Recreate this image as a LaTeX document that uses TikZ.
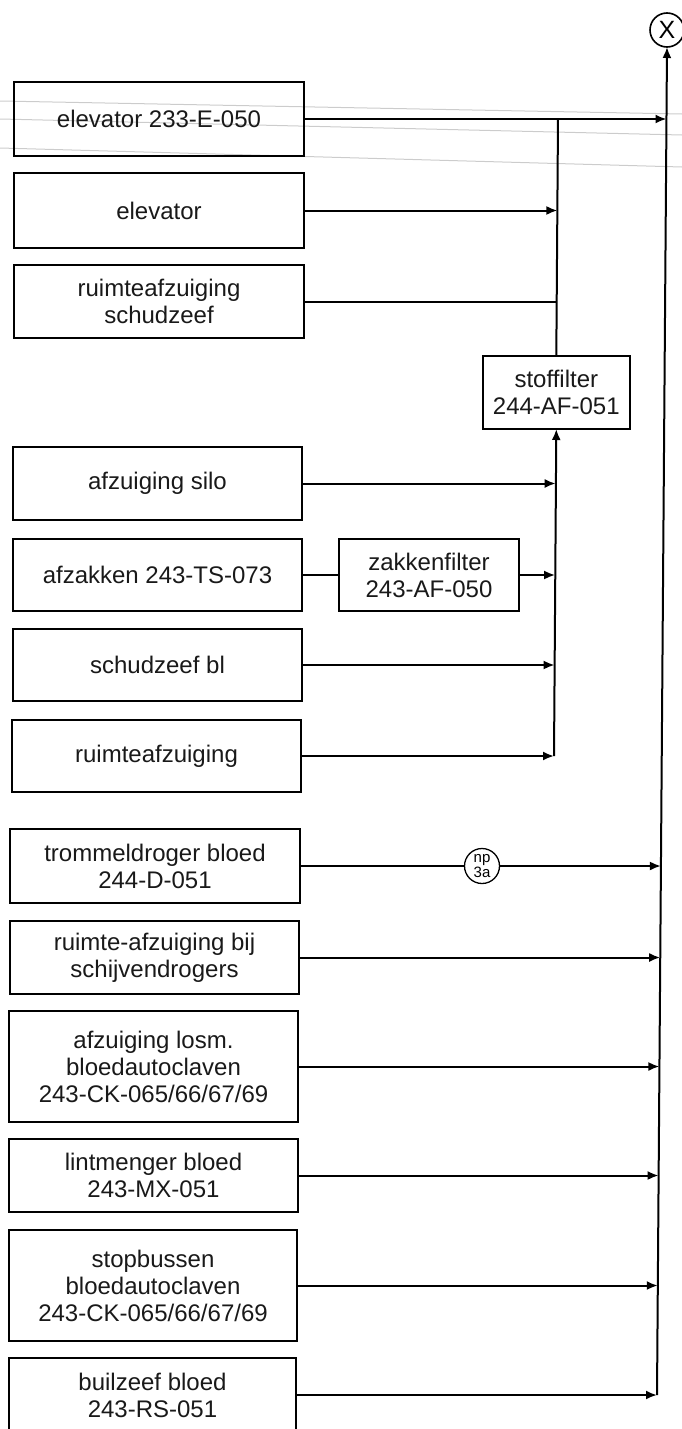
\documentclass[tikz,border=0pt]{standalone}
\usepackage{fontspec}
\setmainfont{Liberation Sans}
\usetikzlibrary{arrows.meta,calc}
\begin{document}
\begin{tikzpicture}[x=1pt,y=-1pt,line width=2pt,
  box/.style={draw,rectangle,inner sep=0pt,outer sep=0pt,align=center,
    font=\fontsize{24}{27}\selectfont,text=black!90},
  arr/.style={-{Latex[length=11pt,width=9pt]}},
  scan/.style={draw=gray!40,line width=1pt},
  ring/.style={draw,circle,inner sep=0pt,outer sep=0pt},
]
\useasboundingbox (0,0) rectangle (682,1429);
% faint scan lines
\draw[scan] (0,101) -- (682,114);
\draw[scan] (0,119) -- (682,135);
\draw[scan] (0,148) -- (682,167);
% left column boxes
\node[box,minimum width=290pt,minimum height=74pt] (b1) at (159,119) {elevator 233-E-050};
\node[box,minimum width=290pt,minimum height=75pt] (b2) at (159,210.5) {elevator};
\node[box,minimum width=290pt,minimum height=73pt] (b3) at (159,301.5) {ruimteafzuiging\\schudzeef};
\node[box,minimum width=289pt,minimum height=73pt] (b4) at (157.5,483.5) {afzuiging silo};
\node[box,minimum width=289pt,minimum height=72pt] (b5) at (157.5,575) {afzakken 243-TS-073};
\node[box,minimum width=289pt,minimum height=72pt] (b6) at (157.5,665) {schudzeef bl};
\node[box,minimum width=289pt,minimum height=72pt] (b7) at (156.5,756) {ruimteafzuiging};
\node[box,minimum width=290pt,minimum height=74pt] (b8) at (155,866) {trommeldroger bloed\\244-D-051};
\node[box,minimum width=289pt,minimum height=73pt] (b9) at (154.5,957.5) {ruimte-afzuiging bij\\schijvendrogers};
\node[box,minimum width=289pt,minimum height=111pt] (b10) at (153.5,1066.5) {afzuiging losm.\\bloedautoclaven\\243-CK-065/66/67/69};
\node[box,minimum width=289pt,minimum height=73pt] (b11) at (153.5,1175.5) {lintmenger bloed\\243-MX-051};
\node[box,minimum width=288pt,minimum height=111pt] (b12) at (153,1285.5) {stopbussen\\bloedautoclaven\\243-CK-065/66/67/69};
\node[box,minimum width=287pt,minimum height=74pt] (b13) at (152.5,1395) {builzeef bloed\\243-RS-051};
% filters
\node[box,minimum width=147pt,minimum height=73pt] (sf) at (556.3,392.5) {stoffilter\\244-AF-051};
\node[box,minimum width=180pt,minimum height=72pt] (zf) at (429,575) {zakkenfilter\\243-AF-050};
% small circle
\node[ring,line width=1.3pt,minimum size=35pt,align=center,
  font=\fontsize{15}{13}\selectfont] (np) at (482,866) {np\\3a};
% X circle
\node[ring,line width=1.6pt,minimum size=34pt,font=\fontsize{25}{25}\selectfont] (X) at (667,30) {X};
% trunk coordinates (stoffilter collector)
\coordinate (t0) at (558,119);
\coordinate (t2) at (557.4,210.5);
\coordinate (t3) at (556.9,301.5);
\coordinate (t4) at (555.7,483.5);
\coordinate (t5) at (555.1,575);
\coordinate (t6) at (554.6,665);
\coordinate (t7) at (554,756);
% main collector coordinates
\coordinate (m1) at (666.5,119);
\coordinate (m8) at (660.9,866);
\coordinate (m9) at (660.2,957.5);
\coordinate (m10) at (659.4,1066.5);
\coordinate (m11) at (658.6,1175.5);
\coordinate (m12) at (657.8,1285.5);
\coordinate (m13) at (657,1395);
% main collector
\draw[arr] (m13) -- (X.south);
% upper group
\draw[arr] (b1.east) -- (m1);
\draw (t0) -- (sf.north);
\draw[arr] (b2.east) -- (t2);
\draw (b3.east) -- (t3);
\draw[arr] (t7) -- (sf.south);
\draw[arr] (b4.east) -- (t4);
\draw (b5.east) -- (zf.west);
\draw[arr] (zf.east) -- (t5);
\draw[arr] (b6.east) -- (t6);
\draw[arr] (b7.east) -- (t7);
% lower group
\draw (b8.east) -- (np);
\draw[arr] (np) -- (m8);
\draw[arr] (b9.east) -- (m9);
\draw[arr] (b10.east) -- (m10);
\draw[arr] (b11.east) -- (m11);
\draw[arr] (b12.east) -- (m12);
\draw[arr] (b13.east) -- (m13);
\end{tikzpicture}
\end{document}
